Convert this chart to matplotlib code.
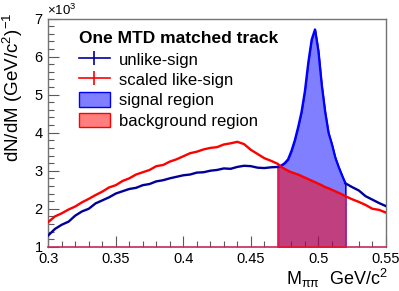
import matplotlib
matplotlib.use("Agg")
import matplotlib.pyplot as plt
from matplotlib.lines import Line2D
from matplotlib.patches import Patch
from matplotlib.ticker import MultipleLocator
import numpy as np

plt.rcParams['font.family'] = ['Liberation Sans', 'DejaVu Sans']
plt.rcParams['mathtext.fontset'] = 'custom'
plt.rcParams['mathtext.rm'] = 'Liberation Sans'
plt.rcParams['mathtext.it'] = 'Liberation Sans:italic'

# ---- data (counts in units of 10^3) ----
mass = [0.300, 0.305, 0.310, 0.315, 0.320, 0.325, 0.330, 0.335, 0.340, 0.345,
        0.350, 0.355, 0.360, 0.365, 0.370, 0.375, 0.380, 0.385, 0.390, 0.395,
        0.400, 0.405, 0.410, 0.415, 0.420, 0.425, 0.430, 0.435, 0.440, 0.445,
        0.450, 0.455, 0.460, 0.465, 0.470, 0.4725, 0.475, 0.4775, 0.480, 0.4825,
        0.485, 0.4875, 0.490, 0.4925, 0.495, 0.4975, 0.500, 0.5025, 0.505, 0.5075,
        0.510, 0.5125, 0.515, 0.5175, 0.520, 0.525, 0.530, 0.535, 0.540, 0.545,
        0.550]
unlike_sign = [1.30, 1.47, 1.58, 1.66, 1.82, 1.93, 2.00, 2.14, 2.22, 2.30,
               2.40, 2.46, 2.52, 2.55, 2.62, 2.65, 2.72, 2.75, 2.80, 2.84,
               2.88, 2.90, 2.95, 2.96, 3.00, 3.02, 3.06, 3.05, 3.10, 3.13,
               3.12, 3.08, 3.07, 3.09, 3.10, 3.14, 3.20, 3.30, 3.52, 3.80,
               4.15, 4.55, 5.10, 5.85, 6.45, 6.72, 6.15, 5.25, 4.55, 4.00,
               3.70, 3.35, 3.10, 2.88, 2.67, 2.57, 2.48, 2.33, 2.24, 2.15,
               2.07]
scaled_like_sign = [1.65, 1.80, 1.88, 1.98, 2.06, 2.17, 2.26, 2.36, 2.45, 2.56,
                    2.62, 2.73, 2.80, 2.90, 2.96, 3.02, 3.12, 3.15, 3.24, 3.30,
                    3.38, 3.46, 3.50, 3.56, 3.60, 3.62, 3.69, 3.72, 3.76, 3.70,
                    3.55, 3.44, 3.33, 3.26, 3.18, 3.10, 3.05, 3.00, 2.96, 2.93,
                    2.90, 2.86, 2.82, 2.78, 2.74, 2.70, 2.66, 2.62, 2.57, 2.54,
                    2.50, 2.46, 2.42, 2.38, 2.33, 2.25, 2.18, 2.10, 2.00, 1.97,
                    1.90]
signal_lo, signal_hi = 0.47, 0.52

m = np.array(mass)
us = np.array(unlike_sign)
ls = np.array(scaled_like_sign)

fig = plt.figure(figsize=(3.99, 2.91), dpi=100)
ax = fig.add_axes([0.121, 0.152, 0.846, 0.784])

sel = (m >= signal_lo - 1e-9) & (m <= signal_hi + 1e-9)
ax.fill_between(m[sel], 0, us[sel], facecolor=(0.0, 0.0, 1.0, 0.5),
                edgecolor=(0, 0, 1), linewidth=1.2, zorder=2)
ax.fill_between(m[sel], 0, ls[sel], facecolor=(1.0, 0.0, 0.0, 0.5),
                edgecolor=(0.85, 0.1, 0.35), linewidth=1.0, zorder=3)

left = m <= signal_lo + 1e-9
right = m >= signal_hi - 1e-9
ax.plot(m[left], us[left], color='#000099', lw=1.7, zorder=4)
ax.plot(m[right], us[right], color='#000099', lw=1.7, zorder=4)
ax.plot(m[sel], us[sel], color='#0000ff', lw=1.5, zorder=4)
ax.plot(m, ls, color='#ff0000', lw=1.7, zorder=5)

ax.set_xlim(0.3, 0.55)
ax.set_ylim(1, 7)
ax.xaxis.set_minor_locator(MultipleLocator(0.01))
ax.yaxis.set_major_locator(MultipleLocator(1))
ax.yaxis.set_minor_locator(MultipleLocator(0.2))
ax.set_xticks([0.3, 0.35, 0.4, 0.45, 0.5, 0.55])
ax.set_xticklabels(['0.3', '0.35', '0.4', '0.45', '0.5', '0.55'])
ax.tick_params(which='both', direction='in', top=False, right=False,
               labelsize=10.5, color='0.35')
ax.tick_params(which='major', length=8, width=0.8)
ax.tick_params(axis='x', which='major', pad=4)
ax.tick_params(axis='y', which='major', pad=4)
ax.tick_params(which='minor', length=4, width=0.8)
for s in ['top', 'right', 'left']:
    ax.spines[s].set_color('0.45')
    ax.spines[s].set_linewidth(1.0)
ax.spines['bottom'].set_color('#c8285a')
ax.spines['bottom'].set_linewidth(1.2)

fig.text(13 / 399, 1 - 12 / 291, r'dN/dM (GeV/c$^{2}$)$^{-1}$', rotation=90,
         ha='center', va='top', fontsize=13.5)
fig.text(388 / 399, 1 - 278 / 291, r'M$_{\mathrm{ππ}}$  GeV/c$^{2}$', ha='right',
         va='center', fontsize=13)
fig.text(47 / 399, 1 - 10 / 291, r'$\times$10$^{3}$', ha='left', va='center',
         fontsize=9.5)

handles = [
    Line2D([], [], color='#000099', lw=1.2, marker='|', markersize=10, markeredgewidth=1.2),
    Line2D([], [], color='#ff0000', lw=1.2, marker='|', markersize=10, markeredgewidth=1.2),
    Patch(facecolor=(0, 0, 1, 0.5), edgecolor=(0, 0, 1)),
    Patch(facecolor=(1, 0, 0, 0.5), edgecolor=(1, 0, 0)),
]
labels = ['unlike-sign', 'scaled like-sign', 'signal region', 'background region']
leg = ax.legend(handles, labels, loc='upper left', bbox_to_anchor=(0.07, 0.975),
                frameon=False, fontsize=12, title='One MTD matched track',
                title_fontproperties={'weight': 'bold', 'size': 12.5},
                handlelength=1.9, handleheight=1.0, handletextpad=0.5,
                labelspacing=0.25, borderaxespad=0.0)
leg._legend_box.align = 'left'
leg._legend_box.sep = 4

fig.savefig('out.png', dpi=100)
